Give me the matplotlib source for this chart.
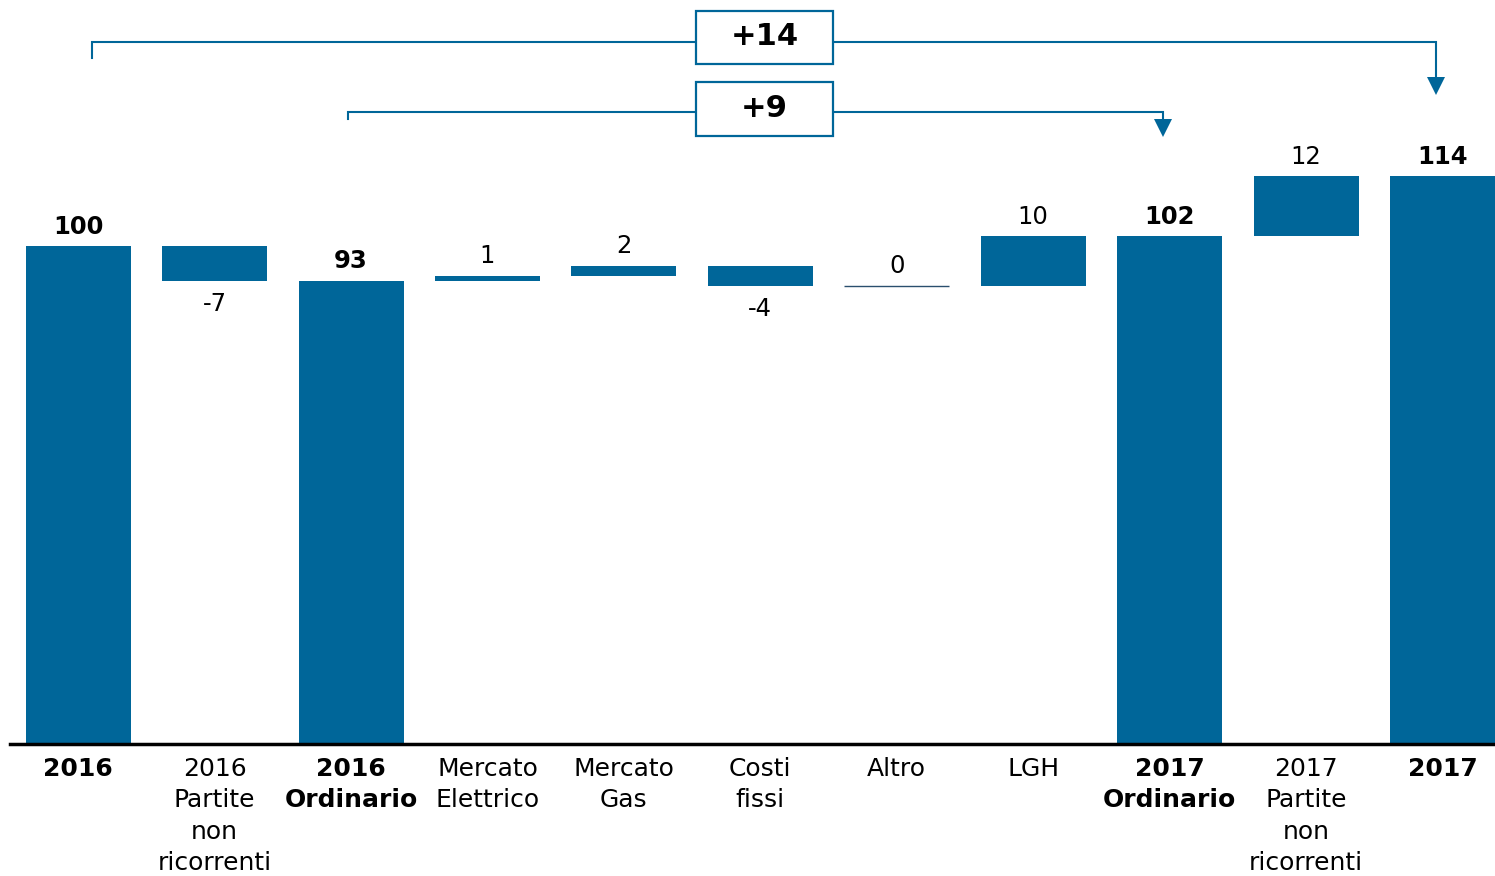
import matplotlib.pyplot as plt
from matplotlib.patches import Rectangle

plt.rcParams['font.family'] = ['DejaVu Sans']

# dati del grafico (waterfall)
categories = ['2016', '2016\nPartite\nnon\nricorrenti', '2016\nOrdinario', 'Mercato\nElettrico',
              'Mercato\nGas', 'Costi\nfissi', 'Altro', 'LGH', '2017\nOrdinario',
              '2017\nPartite\nnon\nricorrenti', '2017']
values = [100, -7, 93, 1, 2, -4, 0, 10, 102, 12, 114]
is_total = [True, False, True, False, False, False, False, False, True, False, True]
bracket_from = [0, 2]
bracket_to = [10, 8]
bracket_labels = ['+14', '+9']

BLUE = '#006699'

fig = plt.figure(figsize=(14.95, 8.76), dpi=100)
ax = fig.add_axes([10 / 1495, 132 / 876, 1 - 10 / 1495, 744 / 876])

# calcolo basi delle barre
bottoms, heights = [], []
running = 0
for v, tot in zip(values, is_total):
    if tot:
        bottoms.append(0)
        heights.append(v)
        running = v
    else:
        bottoms.append(running + min(v, 0))
        heights.append(abs(v))
        running += v

x = list(range(len(values)))
ax.bar(x, heights, bottom=bottoms, width=0.77, color=BLUE, linewidth=0)

# barra a zero -> linea sottile
for i, h in enumerate(heights):
    if h == 0:
        ax.hlines(bottoms[i], i - 0.385, i + 0.385, color='#2a4f6e', lw=1)

# etichette valori
for i, (v, tot) in enumerate(zip(values, is_total)):
    if tot:
        ax.text(i, bottoms[i] + heights[i] + 1.5, str(v), ha='center', va='bottom',
                fontsize=17.5, fontweight='bold')
    elif v >= 0:
        ax.text(i, bottoms[i] + heights[i] + 1.5, str(v), ha='center', va='bottom', fontsize=17.5)
    else:
        ax.text(i, bottoms[i] - 2.2, str(v), ha='center', va='top', fontsize=17.5)

# parentesi con frecce
levels = [141.0, 126.9]
starts = [137.8, 125.5]
tips = [130.7, 122.3]
boxes_y = [141.8, 127.5]
for k in range(len(bracket_labels)):
    x0 = bracket_from[k] + (0.1 if k == 0 else -0.02)
    x1 = bracket_to[k] - 0.045
    ax.plot([x0, x0, x1, x1], [starts[k], levels[k], levels[k], tips[k] + 2],
            color=BLUE, lw=1.5, solid_joinstyle='miter')
    ax.plot([x1], [tips[k] + 1.4], marker='v', markersize=13, color=BLUE, markeredgewidth=0)
    ax.add_patch(Rectangle((4.53, boxes_y[k] - 5.35), 1.0, 10.7, facecolor='white',
                           edgecolor=BLUE, lw=1.6, zorder=3))
    ax.text(5.03, boxes_y[k] + 0.2, bracket_labels[k], ha='center', va='center',
            fontsize=22, fontweight='bold', zorder=4)

ax.set_xlim(-0.5, len(values) - 1 + 0.385)
ax.set_ylim(0, 149.4)
ax.set_xticks(x)
ax.set_xticklabels(categories, fontsize=18, linespacing=1.4)
for lab, tot in zip(ax.get_xticklabels(), is_total):
    if tot:
        lab.set_fontweight('bold')
ax.tick_params(axis='x', length=0, pad=9)
ax.set_yticks([])
for s in ['top', 'right', 'left']:
    ax.spines[s].set_visible(False)
ax.spines['bottom'].set_linewidth(2.5)

fig.savefig('out.png', dpi=100)
